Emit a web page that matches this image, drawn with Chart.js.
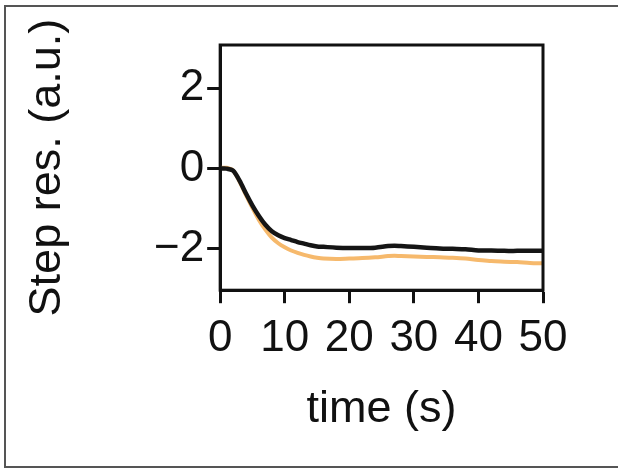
<!DOCTYPE html>
<html>
<head>
<meta charset="utf-8">
<script src="https://cdn.jsdelivr.net/npm/chart.js@4"></script>
<style>
  html, body { margin: 0; padding: 0; background: #fff; overflow: hidden; }
  #marco { position: absolute; left: 4px; top: 5px; width: 640px; height: 463px; border: 2px solid #555; box-sizing: border-box; }
  #caja { position: absolute; left: 0; top: 0; width: 618px; height: 472px; }
</style>
</head>
<body>
<div id="marco"></div>
<div id="caja"><canvas id="miGrafica"></canvas></div>
<script>
// tiempos (s)
const tiempos = [0, 1, 2, 3, 4, 5, 6, 7, 8, 9, 10, 11, 12, 13, 14, 15, 16, 18, 20, 22, 24, 26, 27, 28, 30, 32, 34, 36, 38, 40, 42, 44, 46, 48, 50];

// respuesta negra
const respNegra = [0, 0, -0.05, -0.3, -0.62, -0.92, -1.18, -1.4, -1.56, -1.66, -1.73, -1.78, -1.83, -1.87, -1.91, -1.94, -1.95, -1.97, -1.98, -1.98, -1.97, -1.93, -1.92, -1.93, -1.95, -1.97, -1.99, -2.0, -2.01, -2.04, -2.04, -2.05, -2.05, -2.05, -2.05];

// respuesta naranja
const respNaranja = [0.02, 0.02, -0.05, -0.32, -0.66, -0.98, -1.28, -1.52, -1.72, -1.86, -1.96, -2.04, -2.1, -2.15, -2.19, -2.22, -2.24, -2.25, -2.24, -2.23, -2.21, -2.18, -2.17, -2.18, -2.19, -2.2, -2.21, -2.22, -2.24, -2.28, -2.3, -2.32, -2.33, -2.35, -2.36];

const ticksY = [-2, 0, 2];
const ticksX = [0, 10, 20, 30, 40, 50];

const fuente = "'Liberation Sans', Arial, sans-serif";

function puntos(valores) {
    return tiempos.map((t, i) => ({ x: t, y: valores[i] }));
}

// marco alrededor del area del grafico
const marcoPlugin = {
    id: 'marcoArea',
    afterDraw(chart) {
        const { ctx, chartArea } = chart;
        ctx.save();
        ctx.strokeStyle = '#111';
        ctx.lineWidth = 3;
        ctx.strokeRect(chartArea.left, chartArea.top, chartArea.right - chartArea.left, chartArea.bottom - chartArea.top);
        ctx.restore();
    }
};

const ctx = document.getElementById("miGrafica").getContext("2d");
new Chart(ctx, {
    type: "line",
    data: {
        datasets: [
            {
                label: 'negra',
                data: puntos(respNegra),
                borderColor: '#151515',
                borderWidth: 4.5,
                pointRadius: 0,
                fill: false,
                tension: 0.3
            },
            {
                label: 'naranja',
                data: puntos(respNaranja),
                borderColor: '#f6b96c',
                borderWidth: 4,
                pointRadius: 0,
                fill: false,
                tension: 0.3
            }
        ]
    },
    options: {
        responsive: true,
        maintainAspectRatio: false,
        animation: false,
        layout: { padding: { left: 0, top: 45, right: 75, bottom: 0 } },
        plugins: {
            legend: { display: false },
            tooltip: { enabled: false }
        },
        scales: {
            x: {
                type: 'linear',
                min: 0,
                max: 50,
                afterBuildTicks: scale => { scale.ticks = ticksX.map(v => ({ value: v })); },
                grid: { drawOnChartArea: false, tickLength: 13, tickWidth: 3, tickColor: '#111' },
                border: { color: '#111', width: 3 },
                ticks: { color: '#111', padding: 9, maxRotation: 0, font: { family: fuente, size: 44 } },
                title: { display: true, text: 'time (s)', color: '#111', padding: { top: 9, bottom: 35 }, font: { family: fuente, size: 45 } }
            },
            y: {
                min: -3.03,
                max: 3.08,
                afterBuildTicks: scale => { scale.ticks = ticksY.map(v => ({ value: v })); },
                grid: { drawOnChartArea: false, tickLength: 13, tickWidth: 3, tickColor: '#111' },
                border: { color: '#111', width: 3 },
                ticks: {
                    color: '#111',
                    padding: 3,
                    font: { family: fuente, size: 44 },
                    callback: v => String(v).replace('-', '\u2212')
                },
                title: { display: true, text: 'Step res. (a.u.)', color: '#111', padding: { top: 21, bottom: 76 }, font: { family: fuente, size: 45 } }
            }
        }
    },
    plugins: [marcoPlugin]
});
</script>
</body>
</html>
